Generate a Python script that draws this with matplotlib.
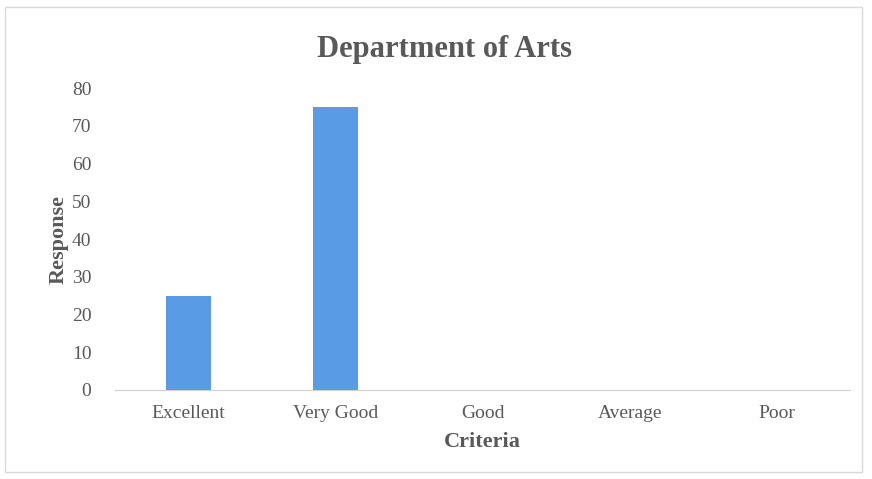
import matplotlib.pyplot as plt
import numpy as np

criteria = ['Excellent', 'Very Good', 'Good', 'Average', 'Poor']
responses = [25, 75, 0, 0, 0]
yticks = [0, 10, 20, 30, 40, 50, 60, 70, 80]

plt.rcParams['font.family'] = ['Liberation Serif', 'DejaVu Serif']

fig = plt.figure(figsize=(8.72, 4.79), dpi=100)
ax = fig.add_axes([0.132, 0.186, 0.843, 0.63])

ind = np.arange(len(criteria))
ax.bar(ind, responses, 0.31, color='#5a9be6', zorder=3)

ax.set_xlim(-0.5, len(criteria) - 0.5)
ax.set_ylim(0, 80)
ax.set_yticks(yticks)
ax.set_xticks(ind)
ax.set_xticklabels(criteria)
ax.tick_params(axis='both', length=0, colors='#595959')
ax.tick_params(axis='y', pad=17, labelsize=14)
ax.tick_params(axis='x', pad=11, labelsize=14)

for s in ['top', 'right', 'left']:
    ax.spines[s].set_visible(False)
ax.spines['bottom'].set_color('#d0d0d0')

ax.set_xlabel('Criteria', fontsize=16, fontweight='bold', color='#595959', labelpad=7)
ax.set_ylabel('Response', fontsize=16, fontweight='bold', color='#595959', labelpad=2)
fig.text(0.51, 0.896, 'Department of Arts', ha='center', va='center',
         fontsize=22, fontweight='bold', color='#595959')

# light border round the chart area
fig.patches.append(plt.Rectangle((0.006, 0.015), 0.982, 0.97, transform=fig.transFigure,
                                 fill=False, edgecolor='#d9d9d9', linewidth=1))

plt.savefig('out.png', dpi=100)
